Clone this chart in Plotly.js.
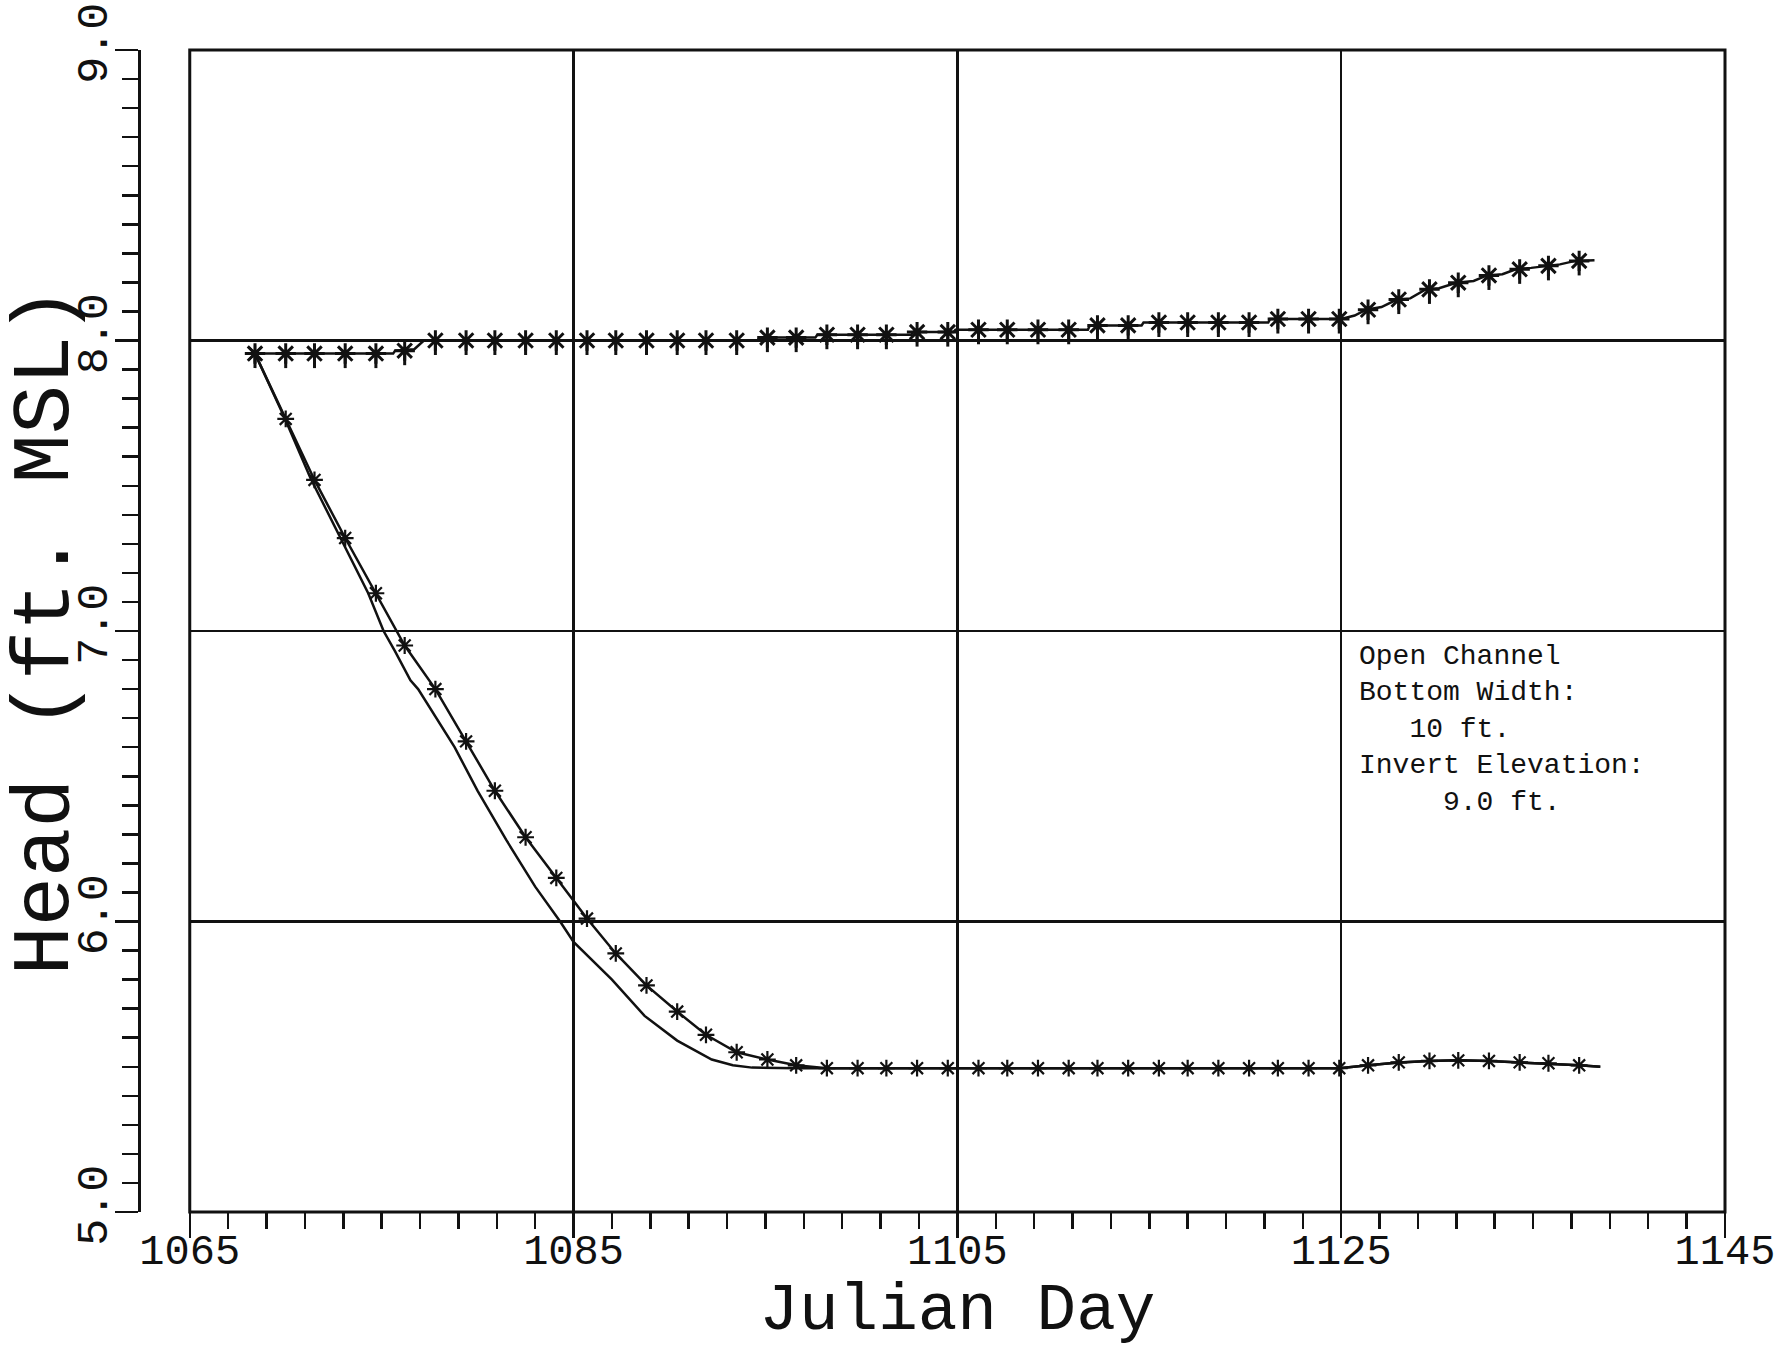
<!DOCTYPE html>
<html>
<head>
<meta charset="utf-8">
<script src="https://cdn.plot.ly/plotly-3.0.1.min.js"></script>
<style>
  html, body { margin: 0; padding: 0; background: #fff; }
  #chart { width: 1787px; height: 1349px; }
</style>
</head>
<body>
<div id="chart"></div>
<script>
// ---- data ----
// days of the plotted symbols (shared by both symbol series)
const markerDay = [1068.4,1070.0,1071.5,1073.1,1074.7,1076.2,1077.8,1079.4,1080.9,1082.5,
  1084.1,1085.7,1087.2,1088.8,1090.4,1091.9,1093.5,1095.1,1096.6,1098.2,
  1099.8,1101.3,1102.9,1104.5,1106.1,1107.6,1109.2,1110.8,1112.3,1113.9,
  1115.5,1117.0,1118.6,1120.2,1121.7,1123.3,1124.9,1126.4,1128.0,1129.6,
  1131.1,1132.7,1134.3,1135.8,1137.4];

// upper series (symbols with stems)
const upperMarkHead = [7.955,7.955,7.955,7.955,7.955,7.965,8.0,8.0,8.0,8.0,
  8.0,8.0,8.0,8.0,8.0,8.0,8.0,8.01,8.01,8.02,
  8.02,8.02,8.029,8.029,8.037,8.037,8.037,8.037,8.052,8.052,
  8.062,8.062,8.062,8.062,8.074,8.074,8.074,8.106,8.141,8.176,
  8.199,8.224,8.245,8.257,8.274];
const upperLineDay = [1068.4,1075.6,1075.7,1076.7,1077.2,1094.6,1094.7,1097.6,1097.7,1102.6,
  1102.7,1104.8,1104.9,1111.8,1111.9,1114.6,1114.7,1121.2,1121.3,1125.0,
  1125.7,1126.3,1127.1,1127.9,1128.6,1129.4,1130.1,1131.0,1131.9,1132.6,
  1133.4,1134.1,1134.9,1135.7,1136.4,1137.2,1138.2];
const upperLineHead = [7.955,7.955,7.965,7.97,8.0,8.0,8.01,8.01,8.02,8.02,
  8.029,8.029,8.037,8.037,8.052,8.052,8.062,8.062,8.074,8.074,
  8.086,8.106,8.115,8.141,8.145,8.176,8.18,8.199,8.205,8.224,
  8.228,8.245,8.25,8.257,8.262,8.274,8.276];

// lower series with asterisks
const lowerMarkHead = [7.955,7.73,7.52,7.32,7.13,6.95,6.80,6.62,6.45,6.29,
  6.15,6.01,5.89,5.78,5.69,5.61,5.55,5.525,5.505,5.495,
  5.495,5.495,5.495,5.495,5.495,5.495,5.495,5.495,5.495,5.495,
  5.495,5.495,5.495,5.495,5.495,5.495,5.495,5.505,5.515,5.52,
  5.522,5.52,5.515,5.512,5.505];
const lowerEndDay = [1138.5];
const lowerEndHead = [5.50];

// lower plain line
const plainDay = [1068.4,1069.9,1071.3,1072.85,1074.3,1075.1,1075.7,1076.5,1076.9,1078.8,
  1080.0,1081.5,1083.0,1084.3,1085.0,1087.0,1088.7,1090.4,1092.2,1093.3,
  1094.3,1096.6,1124.9,1126.4,1128.0,1129.6,1131.1,1132.7,1134.3,1135.8,
  1137.4,1138.5];
const plainHead = [7.955,7.74,7.525,7.32,7.13,7.0,6.93,6.83,6.80,6.60,
  6.45,6.28,6.12,6.0,5.93,5.80,5.675,5.59,5.525,5.505,
  5.497,5.495,5.495,5.505,5.515,5.52,5.522,5.52,5.515,5.512,
  5.505,5.50];

// axis ticks
const xTicks = [1065,1085,1105,1125,1145];
const yTicks = [5,6,7,8,9];
const yTickText = ['5.0','6.0','7.0','8.0','9.0'];

// note block (one line per entry; leading indent as in the reference)
const noteLines = ['Open Channel','Bottom Width:','\u00A0\u00A0\u00A010 ft.','Invert Elevation:','\u00A0\u00A0\u00A0\u00A0\u00A09.0 ft.'];
const noteDay = 1125.8;
const noteHead = 6.66;

// ---- drawing ----
const FONT = 'Liberation Mono, DejaVu Sans Mono, monospace';
const INK = '#111';

const traces = [
  { x: upperLineDay, y: upperLineHead, mode: 'lines', line: {color: INK, width: 2.5}, hoverinfo: 'skip', showlegend: false },
  { x: markerDay, y: upperMarkHead, mode: 'markers',
    marker: {symbol: 'asterisk-open', size: 17, color: INK, line: {color: INK, width: 3}},
    error_y: {type: 'constant', symmetric: false, value: 0, valueminus: 0.05, width: 0, thickness: 3, color: INK},
    showlegend: false },
  { x: plainDay, y: plainHead, mode: 'lines', line: {color: INK, width: 2.5}, showlegend: false },
  { x: markerDay.concat(lowerEndDay), y: lowerMarkHead.concat(lowerEndHead), mode: 'lines',
    line: {color: INK, width: 2.5}, showlegend: false },
  { x: markerDay, y: lowerMarkHead, mode: 'markers',
    marker: {symbol: 'asterisk-open', size: 14, color: INK, line: {color: INK, width: 2.2}},
    showlegend: false }
];

const layout = {
  width: 1787, height: 1349,
  margin: {l: 139, r: 62, t: 50, b: 137},
  paper_bgcolor: '#fff', plot_bgcolor: '#fff',
  showlegend: false,
  xaxis: {
    domain: [0.032, 1], range: [1065, 1145],
    tickmode: 'array', tickvals: xTicks, ticktext: xTicks.map(String),
    ticks: 'outside', ticklen: 25, tickwidth: 2.5, tickcolor: INK,
    ticklabelstandoff: -24,
    showgrid: true, gridcolor: INK, gridwidth: 2.5,
    zeroline: false, showline: false,
    minor: {dtick: 2, tick0: 1065, ticks: 'outside', ticklen: 16, tickwidth: 2.5, tickcolor: INK, showgrid: false},
    tickfont: {family: FONT, size: 42, color: INK},
    title: {text: 'Julian Day', font: {family: FONT, size: 66, color: INK}, standoff: 45}
  },
  yaxis: {
    anchor: 'free', position: 0, range: [5, 9],
    tickmode: 'array', tickvals: yTicks, ticktext: yTickText, tickangle: -90,
    ticks: 'outside', ticklen: 23, tickwidth: 2.5, tickcolor: INK,
    ticklabelstandoff: -10,
    showgrid: true, gridcolor: INK, gridwidth: 2.5,
    zeroline: false, showline: true, linecolor: INK, linewidth: 2.5,
    minor: {dtick: 0.1, tick0: 5, ticks: 'outside', ticklen: 16, tickwidth: 2.5, tickcolor: INK, showgrid: false},
    tickfont: {family: FONT, size: 45, color: INK},
    title: {text: 'Head (ft. MSL)', font: {family: FONT, size: 82, color: INK}, standoff: 14}
  },
  shapes: [{
    type: 'rect', xref: 'x domain', yref: 'y domain', x0: 0, x1: 1, y0: 0, y1: 1,
    line: {color: INK, width: 3}, fillcolor: 'rgba(0,0,0,0)', layer: 'above'
  }],
  annotations: [{
    text: noteLines.join('<br>'), x: noteDay, y: noteHead, xref: 'x', yref: 'y',
    xanchor: 'left', yanchor: 'middle', align: 'left', showarrow: false,
    font: {family: FONT, size: 28, color: INK}
  }]
};

Plotly.newPlot('chart', traces, layout, {displayModeBar: false, staticPlot: true});
</script>
</body>
</html>
